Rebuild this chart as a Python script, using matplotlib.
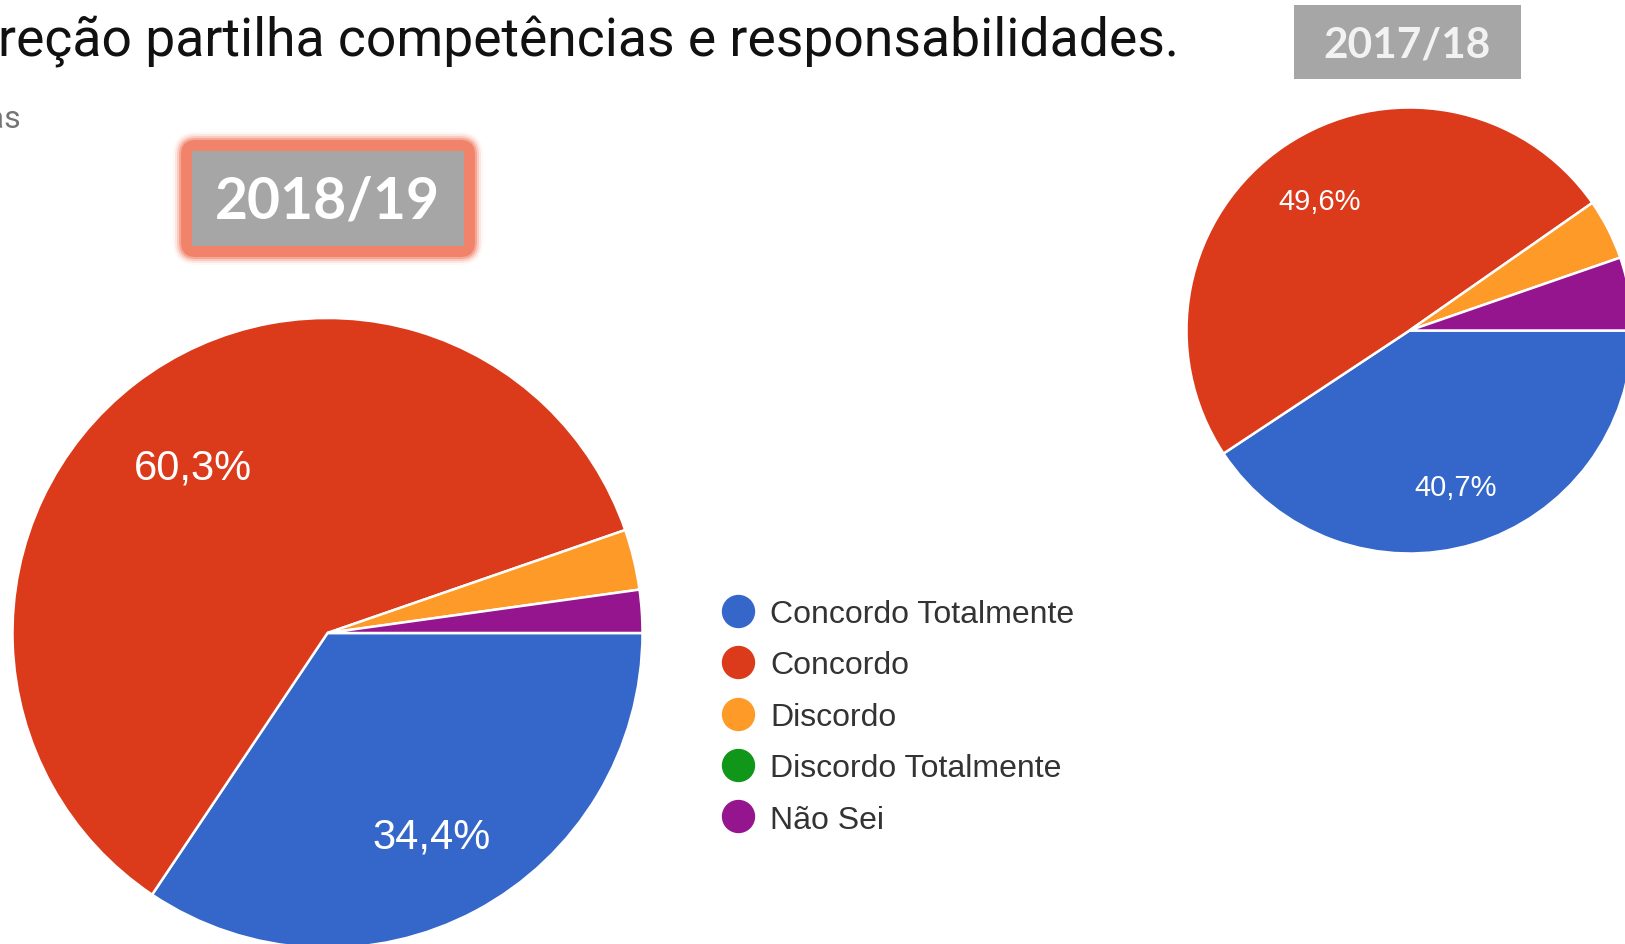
import matplotlib
matplotlib.use("Agg")
import matplotlib.pyplot as plt
from matplotlib.lines import Line2D
from matplotlib.patches import FancyBboxPatch

# dados (percentagens)
categorias = ["Concordo Totalmente", "Concordo", "Discordo", "Discordo Totalmente", "Não Sei"]
cores = ["#3467c9", "#db3a1b", "#fe9a28", "#109618", "#95158f"]
valores_1819 = [34.4, 60.3, 3.1, 0.0, 2.2]
valores_1718 = [40.7, 49.6, 4.4, 0.0, 5.3]

titulo = "reção partilha competências e responsabilidades."
subtitulo = "respostas"
ano_novo = "2018/19"
ano_antigo = "2017/18"

W, H = 1625, 945
fig = plt.figure(figsize=(W / 100, H / 100), dpi=100)
ax = fig.add_axes([0, 0, 1, 1])
ax.set_xlim(0, W)
ax.set_ylim(0, H)
ax.set_aspect("equal")
ax.axis("off")


def py(y):
    # converte y em pixeis (de cima) para coordenadas do eixo
    return H - y


def fmt_pct(p):
    return (f"{p:.1f}".replace(".", ",") + "%") if p > 10 else ""


def desenha_pie(valores, centro, raio, tamanho, pctd, dy):
    vals = [v for v in valores if v > 0]
    cols = [c for v, c in zip(valores, cores) if v > 0]
    _, _, autotexts = ax.pie(vals, colors=cols, center=centro, radius=raio, startangle=0,
                             counterclock=False, autopct=fmt_pct, pctdistance=pctd,
                             wedgeprops=dict(edgecolor="white", linewidth=1.8),
                             textprops=dict(color="white", fontsize=tamanho,
                                            family="Liberation Sans"))
    # pequeno ajuste vertical dos rótulos
    for t in autotexts:
        x, y = t.get_position()
        t.set_position((x, y - dy))


desenha_pie(valores_1819, (327.5, py(634)), 315, 30, 0.70, 9)
desenha_pie(valores_1718, (1409.5, py(331.5)), 223, 21, 0.72, 3)
ax.set_xlim(0, W)
ax.set_ylim(0, H)

# título e subtítulo (cortados à esquerda)
ax.text(-2, py(57), titulo, fontsize=38.5, family="Roboto", color="#111111",
        ha="left", va="baseline")
ax.text(21, py(128), subtitulo, fontsize=23, family="Roboto", color="#757575",
        ha="right", va="baseline")

# caixa 2018/19 com brilho
bx, by, bw, bh = 192, 247, 272, 95
for pad, alpha in [(19, 0.06), (17, 0.14), (15, 0.28), (13, 0.5), (11, 1.0)]:
    ax.add_patch(FancyBboxPatch((bx, py(by)), bw, bh,
                                boxstyle=f"round,pad={pad},rounding_size={pad + 4}",
                                linewidth=0, facecolor="#f2836b", alpha=alpha))
ax.add_patch(FancyBboxPatch((bx, py(by)), bw, bh, boxstyle="square,pad=0",
                            linewidth=0, facecolor="#a6a6a6"))
ax.text(327.5, py(202), ano_novo, fontsize=41, family="Lato", weight="bold",
        color="white", ha="center", va="center")

# caixa 2017/18
ax.add_patch(FancyBboxPatch((1294, py(80)), 227, 74, boxstyle="square,pad=0",
                            linewidth=0, facecolor="#a6a6a6"))
ax.text(1407, py(46), ano_antigo, fontsize=30.5, family="Lato", weight="bold",
        color="#f2f2f2", ha="center", va="center")

# legenda
handles = [Line2D([], [], marker="o", linestyle="", markersize=23,
                  markerfacecolor=c, markeredgecolor=c) for c in cores]
ax.legend(handles, categorias, loc="upper left", bbox_to_anchor=(700, py(584)),
          bbox_transform=ax.transData, frameon=False, borderpad=0,
          handlelength=1.4, handletextpad=0.3, labelspacing=0.67,
          prop=dict(family="Liberation Sans", size=23), labelcolor="#333333")

fig.savefig("out.png", dpi=100)
